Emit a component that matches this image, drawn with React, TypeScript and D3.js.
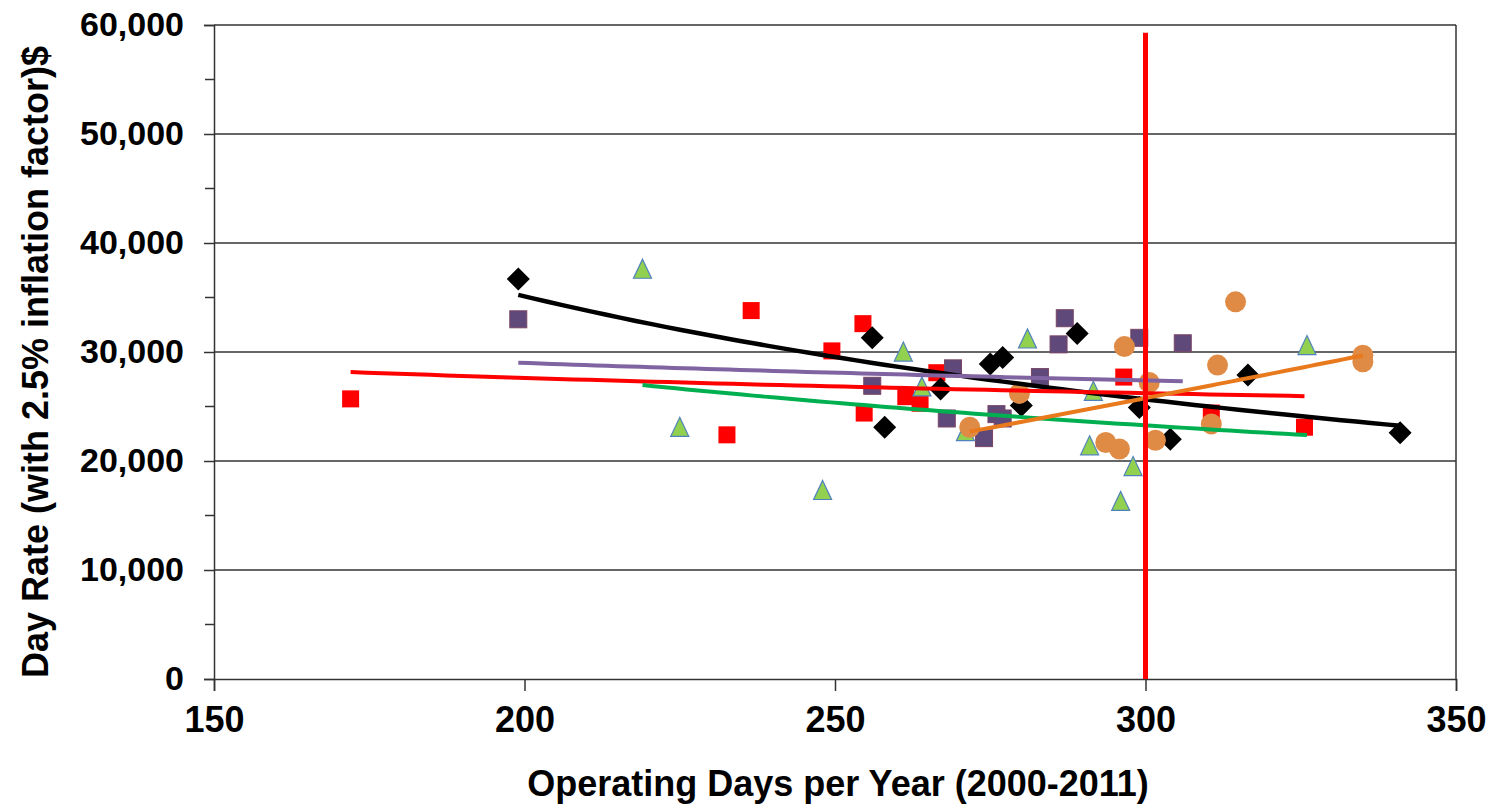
import React, { useEffect, useRef } from 'react'
import * as d3 from 'd3'

type Pt = [number, number]

// operating days, day rate ($)
const blackPoints: Pt[] = [
  [199, 36700], [256, 31300], [258, 23100], [267, 26600], [275, 28900], [277, 29500],
  [280, 25100], [289, 31700], [299, 24900], [304, 22000], [316.5, 27900], [341, 22600]
]
const redPoints: Pt[] = [
  [172, 25700], [236.5, 33800], [232.6, 22400], [249.5, 30100], [254.5, 32600], [254.7, 24400],
  [261.4, 25900], [263.7, 25300], [266.4, 28100], [296.5, 27700], [310.6, 24400], [325.6, 23100]
]
const purplePoints: Pt[] = [
  [199, 33000], [256, 26900], [269, 28500], [268, 23900], [274, 22100], [276, 24300],
  [277, 23900], [283, 27700], [287, 33100], [286, 30700], [299, 31300], [306, 30800]
]
const greenPoints: Pt[] = [
  [219, 37500], [225, 23000], [248, 17200], [261, 29900], [264, 26700], [271, 22600],
  [281, 31100], [291.6, 26300], [291, 21300], [298, 19400], [296, 16200], [326, 30500]
]
const orangePoints: Pt[] = [
  [271.7, 23100], [279.7, 26200], [293.6, 21700], [295.8, 21100], [296.6, 30500], [300.6, 27200],
  [301.6, 21900], [311.6, 28800], [310.6, 23400], [314.5, 34600], [335, 29700], [335, 29100]
]

const xTicks = [150, 200, 250, 300, 350]
const yTicks = [0, 10000, 20000, 30000, 40000, 50000, 60000]
const yMinorTicks = [5000, 15000, 25000, 35000, 45000, 55000]
const markDay = 300
const markTop = 59300

const xTitle = 'Operating Days per Year (2000-2011)'
const yTitle = 'Day Rate (with 2.5% inflation factor)$'

const FONT = '"Liberation Sans", Arial, sans-serif'

// excel style power trendline y = a * x^b
function powerFit(pts: Pt[]) {
  const lx = pts.map(p => Math.log(p[0]))
  const ly = pts.map(p => Math.log(p[1]))
  const mx = d3.mean(lx) as number
  const my = d3.mean(ly) as number
  let sxy = 0
  let sxx = 0
  lx.forEach((v, i) => {
    sxy += (v - mx) * (ly[i] - my)
    sxx += (v - mx) * (v - mx)
  })
  const b = sxy / sxx
  const a = Math.exp(my - b * mx)
  return (x: number) => a * Math.pow(x, b)
}

const series = [
  { name: 'red', points: redPoints, shape: 'square', fill: '#FF0000', stroke: 'none', line: '#FF0000' },
  { name: 'purple', points: purplePoints, shape: 'square', fill: '#5F497A', stroke: '#7A4566', line: '#8064A2' },
  { name: 'green', points: greenPoints, shape: 'triangle', fill: '#92D050', stroke: '#4F81BD', line: '#00B050' },
  { name: 'black', points: blackPoints, shape: 'diamond', fill: '#000000', stroke: 'none', line: '#000000' },
  { name: 'orange', points: orangePoints, shape: 'circle', fill: '#E08B45', stroke: 'none', line: '#E8791C' }
]

export default function App() {
  const ref = useRef<SVGSVGElement>(null)

  useEffect(() => {
    const svg = d3.select(ref.current)
    svg.selectAll('*').remove()

    const left = 214
    const right = 1456
    const top = 25
    const bottom = 679

    const x = d3.scaleLinear().domain([150, 350]).range([left, right])
    const y = d3.scaleLinear().domain([0, 60000]).range([bottom, top])

    // gridlines
    svg
      .append('g')
      .selectAll('line')
      .data(yTicks.slice(1))
      .enter()
      .append('line')
      .attr('x1', left)
      .attr('x2', right)
      .attr('y1', d => y(d))
      .attr('y2', d => y(d))
      .attr('stroke', '#333')
      .attr('stroke-width', 1.5)

    // right border
    svg
      .append('line')
      .attr('x1', right)
      .attr('x2', right)
      .attr('y1', top)
      .attr('y2', bottom)
      .attr('stroke', '#333')
      .attr('stroke-width', 1.5)

    // y axis
    const yAxis = svg
      .append('g')
      .attr('transform', `translate(${left},0)`)
      .call(
        d3
          .axisLeft(y)
          .tickValues(yTicks)
          .tickSize(10)
          .tickPadding(20)
          .tickFormat(d => d3.format(',')(d as number))
      )
    yAxis.select('.domain').attr('stroke', '#333').attr('stroke-width', 1.5)
    yAxis.selectAll('.tick line').attr('stroke', '#333').attr('stroke-width', 1.5)
    yAxis
      .selectAll('.tick text')
      .attr('fill', '#000')
      .attr('font-family', FONT)
      .attr('font-weight', 'bold')
      .attr('font-size', 34)

    svg
      .append('g')
      .selectAll('line')
      .data(yMinorTicks)
      .enter()
      .append('line')
      .attr('x1', left - 9)
      .attr('x2', left)
      .attr('y1', d => y(d))
      .attr('y2', d => y(d))
      .attr('stroke', '#333')
      .attr('stroke-width', 1.5)

    // x axis
    const xAxis = svg
      .append('g')
      .attr('transform', `translate(0,${bottom})`)
      .call(d3.axisBottom(x).tickValues(xTicks).tickSize(12).tickPadding(15))
    xAxis.select('.domain').attr('stroke', '#333').attr('stroke-width', 1.5)
    xAxis.selectAll('.tick line').attr('stroke', '#333').attr('stroke-width', 1.5)
    xAxis
      .selectAll('.tick text')
      .attr('fill', '#000')
      .attr('font-family', FONT)
      .attr('font-weight', 'bold')
      .attr('font-size', 36)

    // markers
    series.forEach(s => {
      const g = svg.append('g')
      s.points.forEach(p => {
        const cx = x(p[0])
        const cy = y(p[1])
        if (s.shape === 'square') {
          g.append('rect')
            .attr('x', cx - 8.5)
            .attr('y', cy - 8.5)
            .attr('width', 17)
            .attr('height', 17)
            .attr('fill', s.fill)
            .attr('stroke', s.stroke)
            .attr('stroke-width', 1)
        } else if (s.shape === 'triangle') {
          g.append('path')
            .attr('d', `M${cx},${cy - 11}L${cx + 9},${cy + 8}L${cx - 9},${cy + 8}Z`)
            .attr('fill', s.fill)
            .attr('stroke', s.stroke)
            .attr('stroke-width', 1.2)
        } else if (s.shape === 'diamond') {
          g.append('path')
            .attr('d', `M${cx},${cy - 11.5}L${cx + 11.5},${cy}L${cx},${cy + 11.5}L${cx - 11.5},${cy}Z`)
            .attr('fill', s.fill)
        } else {
          g.append('circle')
            .attr('cx', cx)
            .attr('cy', cy)
            .attr('r', 10.5)
            .attr('fill', s.fill)
        }
      })
    })

    // trendlines
    const line = d3
      .line<Pt>()
      .x(d => x(d[0]))
      .y(d => y(d[1]))
    const lineOrder = ['black', 'purple', 'red', 'green', 'orange']
    lineOrder.forEach(name => {
      const s = series.find(q => q.name === name)!
      const f = powerFit(s.points)
      const [x0, x1] = d3.extent(s.points, p => p[0]) as [number, number]
      const pts: Pt[] = d3.range(61).map(i => {
        const xv = x0 + ((x1 - x0) * i) / 60
        return [xv, f(xv)]
      })
      svg
        .append('path')
        .datum(pts)
        .attr('d', line)
        .attr('fill', 'none')
        .attr('stroke', s.line)
        .attr('stroke-width', name === 'black' ? 4.5 : 4)
    })

    // 300 day marker line
    svg
      .append('line')
      .attr('x1', x(markDay))
      .attr('x2', x(markDay))
      .attr('y1', y(0))
      .attr('y2', y(markTop))
      .attr('stroke', '#FF0000')
      .attr('stroke-width', 5)

    // titles
    svg
      .append('text')
      .attr('x', 838)
      .attr('y', 796)
      .attr('text-anchor', 'middle')
      .attr('font-family', FONT)
      .attr('font-weight', 'bold')
      .attr('font-size', 36)
      .text(xTitle)

    svg
      .append('text')
      .attr('transform', 'translate(48,362) rotate(-90)')
      .attr('text-anchor', 'middle')
      .attr('font-family', FONT)
      .attr('font-weight', 'bold')
      .attr('font-size', 36)
      .text(yTitle)
  }, [])

  return (
    <svg
      ref={ref}
      width={1497}
      height={811}
      style={{ position: 'absolute', left: 0, top: 0, background: '#fff' }}
    />
  )
}
